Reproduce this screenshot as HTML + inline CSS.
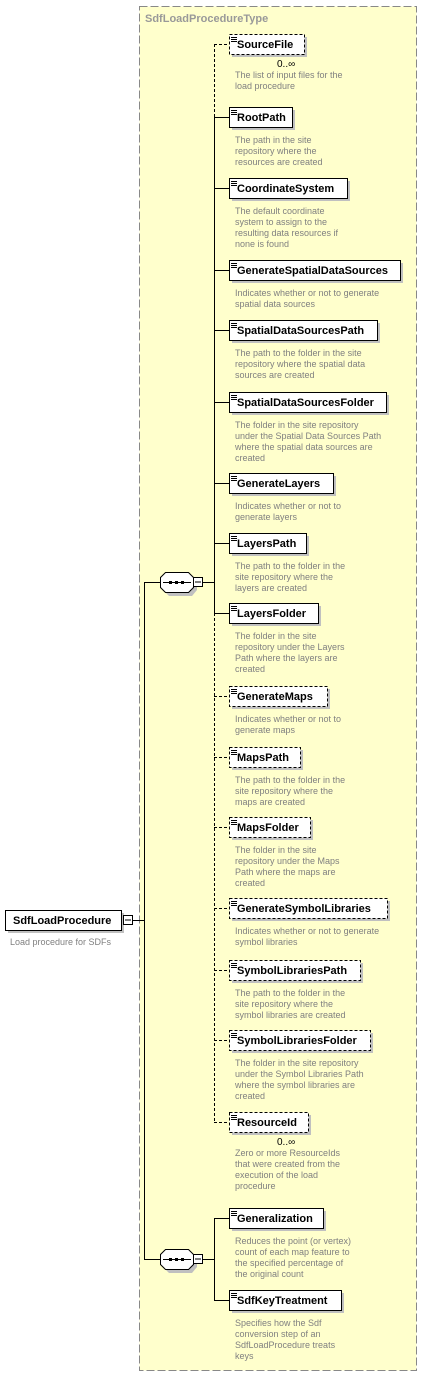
<!DOCTYPE html>
<html><head><meta charset="utf-8"><style>
html,body{margin:0;padding:0;background:#fff;}
svg{display:block;}
.t{font-family:"Liberation Sans",sans-serif;font-weight:bold;font-size:11px;fill:#000;}
.d{font-family:"Liberation Sans",sans-serif;font-size:9px;fill:#808080;}
</style></head><body>
<svg width="435" height="1377" viewBox="0 0 435 1377" xmlns="http://www.w3.org/2000/svg">
<rect x="139.5" y="6.5" width="277" height="1364" fill="#ffffcc" stroke="#888" stroke-dasharray="8,3"/>
<text x="145" y="22" font-family="Liberation Sans, sans-serif" font-weight="bold" font-size="11" fill="#999">SdfLoadProcedureType</text>

<rect x="8" y="913" width="116" height="20" fill="#c0c0c0"/>
<rect x="5.5" y="910.5" width="116" height="20" fill="#fff" stroke="#000"/>
<text class="t" x="13" y="924">SdfLoadProcedure</text>
<rect x="123.5" y="915.5" width="9" height="9" fill="#fff" stroke="#000"/>
<line x1="125" y1="920" x2="131" y2="920" stroke="#000"/>
<text class="d" x="10" y="945">Load procedure for SDFs</text>
<line x1="133" y1="920.5" x2="145" y2="920.5" stroke="#000"/>
<line x1="144.5" y1="582" x2="144.5" y2="1259" stroke="#000"/>
<line x1="144" y1="582.5" x2="160" y2="582.5" stroke="#000"/>
<line x1="144" y1="1259.5" x2="160" y2="1259.5" stroke="#000"/>

<polygon points="166,576 171,575 189,575 197,580 197,590 192,596 169,596 163,590 163,580" fill="#c0c0c0"/>
<polygon points="165.5,572.5 188.5,572.5 193.5,577.5 193.5,587.5 188.5,592.5 165.5,592.5 160.5,587.5 160.5,577.5" fill="#fff" stroke="#000"/>
<line x1="163" y1="582.5" x2="191" y2="582.5" stroke="#000"/>
<rect x="169" y="581" width="3" height="3" fill="#000"/><rect x="175" y="581" width="3" height="3" fill="#000"/><rect x="181" y="581" width="3" height="3" fill="#000"/>
<rect x="193.5" y="577.5" width="9" height="9" fill="#fff" stroke="#000"/>
<line x1="195" y1="582" x2="201" y2="582" stroke="#000"/>
<line x1="203" y1="582.5" x2="214" y2="582.5" stroke="#000"/>

<polygon points="166,1253 171,1252 189,1252 197,1257 197,1267 192,1273 169,1273 163,1267 163,1257" fill="#c0c0c0"/>
<polygon points="165.5,1249.5 188.5,1249.5 193.5,1254.5 193.5,1264.5 188.5,1269.5 165.5,1269.5 160.5,1264.5 160.5,1254.5" fill="#fff" stroke="#000"/>
<line x1="163" y1="1259.5" x2="191" y2="1259.5" stroke="#000"/>
<rect x="169" y="1258" width="3" height="3" fill="#000"/><rect x="175" y="1258" width="3" height="3" fill="#000"/><rect x="181" y="1258" width="3" height="3" fill="#000"/>
<rect x="193.5" y="1254.5" width="9" height="9" fill="#fff" stroke="#000"/>
<line x1="195" y1="1259" x2="201" y2="1259" stroke="#000"/>
<line x1="203" y1="1259.5" x2="214" y2="1259.5" stroke="#000"/>
<line x1="214.5" y1="1218" x2="214.5" y2="1301" stroke="#000"/>

<line x1="214.5" y1="44" x2="214.5" y2="117" stroke="#000" stroke-dasharray="3,2"/>
<line x1="214.5" y1="117" x2="214.5" y2="613" stroke="#000"/>
<line x1="214.5" y1="613" x2="214.5" y2="1122" stroke="#000" stroke-dasharray="3,2"/>

<g id="items"></g>
</svg>
<script>
var items=[
["SourceFile",34,304,1,1,["The list of input files for the","load procedure"]],
["RootPath",107,292,0,0,["The path in the site","repository where the","resources are created"]],
["CoordinateSystem",178,347,0,0,["The default coordinate","system to assign to the","resulting data resources if","none is found"]],
["GenerateSpatialDataSources",260,400,0,0,["Indicates whether or not to generate","spatial data sources"]],
["SpatialDataSourcesPath",320,377,0,0,["The path to the folder in the site","repository where the spatial data","sources are created"]],
["SpatialDataSourcesFolder",392,386,0,0,["The folder in the site repository","under the Spatial Data Sources Path","where the spatial data sources are","created"]],
["GenerateLayers",473,333,0,0,["Indicates whether or not to","generate layers"]],
["LayersPath",533,306,0,0,["The path to the folder in the","site repository where the","layers are created"]],
["LayersFolder",603,318,0,0,["The folder in the site","repository under the Layers","Path where the layers are","created"]],
["GenerateMaps",686,327,1,0,["Indicates whether or not to","generate maps"]],
["MapsPath",747,300,1,0,["The path to the folder in the","site repository where the","maps are created"]],
["MapsFolder",817,310,1,0,["The folder in the site","repository under the Maps","Path where the maps are","created"]],
["GenerateSymbolLibraries",898,387,1,0,["Indicates whether or not to generate","symbol libraries"]],
["SymbolLibrariesPath",960,360,1,0,["The path to the folder in the","site repository where the","symbol libraries are created"]],
["SymbolLibrariesFolder",1030,370,1,0,["The folder in the site repository","under the Symbol Libraries Path","where the symbol libraries are","created"]],
["ResourceId",1112,308,1,1,["Zero or more ResourceIds","that were created from the","execution of the load","procedure"]],
["Generalization",1208,323,0,0,["Reduces the point (or vertex)","count of each map feature to","the specified percentage of","the original count"]],
["SdfKeyTreatment",1290,341,0,0,["Specifies how the Sdf","conversion step of an","SdfLoadProcedure treats","keys"]]
];
var s="";
items.forEach(function(it){
 var n=it[0],y=it[1],r=it[2],dash=it[3],mult=it[4],x=229,w=r-x,h=20,my=y+10.5;
 var da=dash?' stroke-dasharray="3,2"':'';
 s+='<line x1="214" y1="'+my+'" x2="229" y2="'+my+'" stroke="#000"'+da+'/>';
 s+='<rect x="'+(x+3)+'" y="'+(y+3)+'" width="'+w+'" height="'+h+'" fill="#c0c0c0"/>';
 s+='<rect x="'+(x+0.5)+'" y="'+(y+0.5)+'" width="'+w+'" height="'+h+'" fill="#fff" stroke="#000"'+da+'/>';
 s+='<path d="M'+(x+2)+' '+(y+3.5)+'h6M'+(x+2)+' '+(y+5.5)+'h6M'+(x+2)+' '+(y+7.5)+'h6" stroke="#000" stroke-width="1"/>';
 s+='<text class="t" x="'+(x+8)+'" y="'+(y+14)+'">'+n+'</text>';
 var ty=y+h+16;
 if(mult){s+='<text x="'+(x+48)+'" y="'+(y+h+13)+'" font-family="Liberation Sans, sans-serif" font-size="10" fill="#000">0..∞</text>';ty=y+h+24;}
 it[5].forEach(function(l,i){s+='<text class="d" x="235" y="'+(ty+i*11)+'">'+l+'</text>';});
});
document.getElementById('items').innerHTML=s;
</script>
</body></html>
